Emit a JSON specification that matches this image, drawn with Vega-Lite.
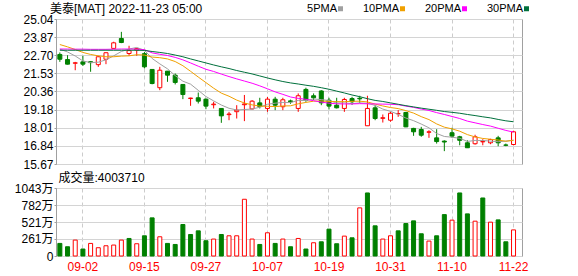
{
  "$schema": "https://vega.github.io/schema/vega-lite/v6.json",
  "background": "white",
  "padding": {"left": 13, "top": 2, "right": 5, "bottom": 0},
  "spacing": -3,
  "config": {
    "view": {"stroke": "#a0a0a0"},
    "axis": {"labelFont": "Liberation Sans, Noto Sans CJK SC", "labelFontSize": 12, "labelColor": "#000000", "domainColor": "#a0a0a0", "tickColor": "#a0a0a0", "gridColor": "#d4d4d4", "tickSize": 2, "labelPadding": 1},
    "title": {"font": "Liberation Sans, Noto Sans CJK SC", "fontSize": 12, "fontWeight": "normal", "color": "#000000"}
  },
  "datasets": {
    "k": [
      {"d":"08-30","o":22.75,"h":22.88,"l":22.27,"c":22.44,"v":193,"g":-0.10,"m5":23.09,"m10":23.39,"m20":23.10,"m30":23.02},
      {"d":"08-31","o":22.42,"h":22.70,"l":22.10,"c":22.12,"v":142,"g":-0.32,"m5":22.91,"m10":23.24,"m20":23.10,"m30":23.02},
      {"d":"09-01","o":22.18,"h":22.27,"l":21.73,"c":22.21,"v":244,"g":0.09,"m5":22.65,"m10":23.07,"m20":23.09,"m30":23.02},
      {"d":"09-02","o":22.27,"h":22.66,"l":22.00,"c":22.12,"v":107,"g":-0.09,"m5":22.33,"m10":22.88,"m20":23.09,"m30":23.02},
      {"d":"09-06","o":22.28,"h":22.30,"l":21.63,"c":22.22,"v":193,"g":0.10,"m5":22.22,"m10":22.75,"m20":23.08,"m30":23.02},
      {"d":"09-07","o":22.09,"h":22.66,"l":21.95,"c":22.60,"v":127,"g":0.38,"m5":22.25,"m10":22.66,"m20":23.08,"m30":23.02},
      {"d":"09-08","o":22.44,"h":22.88,"l":22.12,"c":22.86,"v":157,"g":0.26,"m5":22.40,"m10":22.60,"m20":23.08,"m30":23.02},
      {"d":"09-09","o":23.14,"h":23.57,"l":23.14,"c":23.50,"v":168,"g":0.64,"m5":22.66,"m10":22.60,"m20":23.09,"m30":23.02},
      {"d":"09-12","o":23.78,"h":24.21,"l":23.48,"c":23.52,"v":244,"g":0.02,"m5":22.94,"m10":22.64,"m20":23.10,"m30":23.02},
      {"d":"09-13","o":22.81,"h":23.31,"l":22.66,"c":23.00,"v":269,"g":-0.52,"m5":23.10,"m10":22.66,"m20":23.10,"m30":23.02},
      {"d":"09-14","o":23.03,"h":23.14,"l":22.66,"c":23.13,"v":188,"g":0.13,"m5":23.20,"m10":22.73,"m20":23.09,"m30":23.02},
      {"d":"09-15","o":22.80,"h":22.91,"l":21.85,"c":21.95,"v":310,"g":-1.18,"m5":23.02,"m10":22.71,"m20":23.06,"m30":23.01},
      {"d":"09-16","o":21.78,"h":21.80,"l":20.82,"c":20.87,"v":585,"g":-1.08,"m5":22.49,"m10":22.58,"m20":22.85,"m30":22.94},
      {"d":"09-19","o":20.60,"h":21.95,"l":20.44,"c":21.73,"v":295,"g":0.86,"m5":22.14,"m10":22.54,"m20":22.76,"m30":22.88},
      {"d":"09-20","o":21.67,"h":21.67,"l":20.98,"c":21.41,"v":193,"g":-0.32,"m5":21.82,"m10":22.46,"m20":22.68,"m30":22.81},
      {"d":"09-21","o":21.41,"h":21.52,"l":20.81,"c":20.94,"v":177,"g":-0.47,"m5":21.38,"m10":22.29,"m20":22.56,"m30":22.71},
      {"d":"09-22","o":20.81,"h":20.81,"l":19.86,"c":20.16,"v":483,"g":-0.78,"m5":21.02,"m10":22.02,"m20":22.40,"m30":22.60},
      {"d":"09-23","o":19.90,"h":19.95,"l":19.43,"c":19.93,"v":330,"g":-0.23,"m5":20.83,"m10":21.66,"m20":22.20,"m30":22.46},
      {"d":"09-26","o":19.95,"h":20.29,"l":19.58,"c":19.73,"v":386,"g":-0.20,"m5":20.43,"m10":21.29,"m20":21.99,"m30":22.33},
      {"d":"09-27","o":19.86,"h":19.90,"l":19.21,"c":19.41,"v":234,"g":-0.32,"m5":20.03,"m10":20.93,"m20":21.79,"m30":22.20},
      {"d":"09-28","o":19.50,"h":19.69,"l":19.26,"c":19.54,"v":260,"g":0.13,"m5":19.75,"m10":20.57,"m20":21.65,"m30":22.07},
      {"d":"09-29","o":19.26,"h":19.26,"l":18.33,"c":18.78,"v":330,"g":-0.76,"m5":19.48,"m10":20.25,"m20":21.48,"m30":21.95},
      {"d":"09-30","o":18.86,"h":19.04,"l":18.50,"c":18.90,"v":310,"g":0.12,"m5":19.27,"m10":20.05,"m20":21.32,"m30":21.84},
      {"d":"10-03","o":19.05,"h":19.47,"l":18.61,"c":19.15,"v":310,"g":0.25,"m5":19.16,"m10":19.80,"m20":21.17,"m30":21.71},
      {"d":"10-04","o":19.50,"h":20.13,"l":18.44,"c":19.55,"v":870,"g":0.40,"m5":19.19,"m10":19.61,"m20":21.03,"m30":21.60},
      {"d":"10-05","o":19.23,"h":19.80,"l":19.20,"c":19.73,"v":260,"g":0.18,"m5":19.22,"m10":19.49,"m20":20.89,"m30":21.49},
      {"d":"10-06","o":19.62,"h":19.95,"l":19.26,"c":19.38,"v":177,"g":-0.35,"m5":19.34,"m10":19.41,"m20":20.72,"m30":21.36},
      {"d":"10-07","o":19.26,"h":20.00,"l":19.04,"c":19.86,"v":356,"g":0.48,"m5":19.53,"m10":19.40,"m20":20.53,"m30":21.23},
      {"d":"10-10","o":19.86,"h":20.01,"l":19.15,"c":19.47,"v":193,"g":-0.39,"m5":19.60,"m10":19.38,"m20":20.33,"m30":21.11},
      {"d":"10-11","o":19.37,"h":19.95,"l":19.15,"c":19.82,"v":260,"g":0.35,"m5":19.65,"m10":19.42,"m20":20.17,"m30":21.00},
      {"d":"10-12","o":19.75,"h":19.83,"l":19.56,"c":19.69,"v":142,"g":-0.13,"m5":19.64,"m10":19.43,"m20":20.00,"m30":20.91},
      {"d":"10-13","o":19.26,"h":20.23,"l":19.04,"c":20.08,"v":269,"g":0.39,"m5":19.78,"m10":19.56,"m20":19.91,"m30":20.84},
      {"d":"10-14","o":20.49,"h":20.60,"l":19.69,"c":19.79,"v":107,"g":-0.29,"m5":19.77,"m10":19.65,"m20":19.85,"m30":20.76},
      {"d":"10-17","o":20.08,"h":20.23,"l":19.80,"c":19.95,"v":203,"g":0.16,"m5":19.87,"m10":19.73,"m20":19.76,"m30":20.69},
      {"d":"10-18","o":20.39,"h":20.44,"l":19.47,"c":19.62,"v":218,"g":-0.33,"m5":19.83,"m10":19.74,"m20":19.67,"m30":20.60},
      {"d":"10-19","o":19.79,"h":19.95,"l":19.19,"c":19.41,"v":412,"g":-0.21,"m5":19.77,"m10":19.71,"m20":19.60,"m30":20.50},
      {"d":"10-20","o":19.47,"h":19.95,"l":19.26,"c":19.30,"v":188,"g":-0.11,"m5":19.61,"m10":19.70,"m20":19.56,"m30":20.38},
      {"d":"10-21","o":19.26,"h":19.95,"l":19.04,"c":19.84,"v":305,"g":0.54,"m5":19.62,"m10":19.70,"m20":19.55,"m30":20.26},
      {"d":"10-24","o":19.90,"h":20.01,"l":19.49,"c":19.69,"v":279,"g":-0.15,"m5":19.57,"m10":19.72,"m20":19.55,"m30":20.13},
      {"d":"10-25","o":19.92,"h":20.08,"l":19.62,"c":19.88,"v":738,"g":0.19,"m5":19.62,"m10":19.73,"m20":19.57,"m30":20.02},
      {"d":"10-26","o":18.14,"h":20.08,"l":18.14,"c":19.26,"v":967,"g":-0.62,"m5":19.59,"m10":19.68,"m20":19.56,"m30":19.89},
      {"d":"10-27","o":19.30,"h":19.47,"l":18.50,"c":18.61,"v":463,"g":-0.65,"m5":19.46,"m10":19.54,"m20":19.55,"m30":19.78},
      {"d":"10-28","o":18.62,"h":18.87,"l":18.35,"c":18.66,"v":260,"g":0.05,"m5":19.22,"m10":19.42,"m20":19.54,"m30":19.71},
      {"d":"10-31","o":18.50,"h":19.04,"l":18.40,"c":18.95,"v":310,"g":0.29,"m5":19.07,"m10":19.32,"m20":19.53,"m30":19.62},
      {"d":"11-01","o":18.92,"h":19.15,"l":18.72,"c":18.93,"v":386,"g":-0.02,"m5":18.88,"m10":19.25,"m20":19.50,"m30":19.53},
      {"d":"11-02","o":19.00,"h":19.04,"l":18.05,"c":18.07,"v":498,"g":-0.86,"m5":18.64,"m10":19.12,"m20":19.41,"m30":19.44},
      {"d":"11-03","o":17.97,"h":18.01,"l":17.49,"c":17.75,"v":539,"g":-0.32,"m5":18.47,"m10":18.96,"m20":19.33,"m30":19.36},
      {"d":"11-04","o":17.90,"h":18.07,"l":17.43,"c":17.53,"v":341,"g":-0.22,"m5":18.25,"m10":18.73,"m20":19.22,"m30":19.28},
      {"d":"11-07","o":17.72,"h":17.85,"l":17.36,"c":17.75,"v":229,"g":0.22,"m5":18.01,"m10":18.54,"m20":19.13,"m30":19.21},
      {"d":"11-08","o":17.36,"h":17.92,"l":16.99,"c":17.12,"v":310,"g":-0.63,"m5":17.64,"m10":18.26,"m20":18.99,"m30":19.14},
      {"d":"11-09","o":17.15,"h":17.20,"l":16.50,"c":17.09,"v":635,"g":-0.03,"m5":17.45,"m10":18.05,"m20":18.87,"m30":19.06},
      {"d":"11-10","o":17.69,"h":18.01,"l":17.36,"c":17.47,"v":550,"g":0.38,"m5":17.40,"m10":17.94,"m20":18.74,"m30":19.01},
      {"d":"11-11","o":17.43,"h":17.49,"l":16.88,"c":17.20,"v":967,"g":-0.27,"m5":17.33,"m10":17.79,"m20":18.61,"m30":18.95},
      {"d":"11-14","o":17.04,"h":17.20,"l":16.72,"c":16.72,"v":646,"g":-0.48,"m5":17.13,"m10":17.57,"m20":18.44,"m30":18.87},
      {"d":"11-15","o":16.98,"h":17.56,"l":16.92,"c":17.43,"v":534,"g":0.71,"m5":17.19,"m10":17.42,"m20":18.33,"m30":18.80},
      {"d":"11-16","o":17.10,"h":17.27,"l":16.88,"c":17.13,"v":890,"g":-0.30,"m5":17.19,"m10":17.32,"m20":18.22,"m30":18.72},
      {"d":"11-17","o":17.04,"h":17.30,"l":16.95,"c":17.25,"v":519,"g":0.12,"m5":17.15,"m10":17.27,"m20":18.12,"m30":18.65},
      {"d":"11-18","o":17.36,"h":17.49,"l":16.82,"c":17.04,"v":554,"g":-0.21,"m5":17.11,"m10":17.22,"m20":17.98,"m30":18.55},
      {"d":"11-21","o":16.90,"h":16.99,"l":16.82,"c":16.88,"v":218,"g":-0.16,"m5":17.15,"m10":17.14,"m20":17.84,"m30":18.46},
      {"d":"11-22","o":16.93,"h":17.82,"l":16.88,"c":17.75,"v":400.37,"g":0.87,"m5":17.21,"m10":17.20,"m20":17.73,"m30":18.40}
    ]
  },
  "vconcat": [
    {
      "width": 466,
      "height": 145,
      "title": {"text": "美泰[MAT] 2022-11-23 05:00", "anchor": "start", "frame": "group", "dx": -6, "offset": -3},
      "data": {"name": "k"},
      "encoding": {
        "x": {
          "field": "d", "type": "ordinal", "sort": null,
          "scale": {"paddingInner": 0, "paddingOuter": 0.3, "align": 0},
          "axis": {"values": ["09-02","09-15","09-27","10-07","10-19","10-31","11-10","11-22"], "labels": false, "ticks": false, "domain": false, "grid": true, "gridDash": [4,3], "gridColor": "#cccccc",
                   "title": "成交量:4003710", "titleAnchor": "start", "titleAlign": "left", "titleBaseline": "middle", "titleX": 2, "titleY": 13,
                   "titleFont": "Liberation Sans, Noto Sans CJK SC", "titleFontSize": 12, "titleFontWeight": "normal", "titleColor": "#000000"}
        }
      },
      "layer": [
        {
          "mark": {"type": "rule", "strokeWidth": 1},
          "encoding": {
            "y": {"field": "l", "type": "quantitative", "scale": {"domain": [15.67, 25.04], "zero": false, "nice": false},
                  "axis": {"values": [15.67, 16.84, 18.01, 19.18, 20.36, 21.53, 22.70, 23.87, 25.04], "tickCount": 20, "format": ".2f", "title": null, "labelOverlap": false}},
            "y2": {"field": "h"},
            "color": {"condition": {"test": "datum.c >= datum.o", "value": "#ff0000"}, "value": "#008000"}
          }
        },
        {
          "mark": {"type": "bar", "width": 4, "strokeWidth": 1},
          "encoding": {
            "y": {"field": "o", "type": "quantitative"},
            "y2": {"field": "c"},
            "fill": {"condition": {"test": "datum.c >= datum.o", "value": "#ffffff"}, "value": "#008000"},
            "stroke": {"condition": {"test": "datum.c >= datum.o", "value": "#ff0000"}, "value": "#008000"}
          }
        },
        {
          "transform": [{"fold": ["m5", "m10", "m20", "m30"], "as": ["k", "val"]}],
          "mark": {"type": "line", "strokeWidth": 1},
          "encoding": {
            "y": {"field": "val", "type": "quantitative"},
            "color": {
              "field": "k", "type": "nominal",
              "scale": {"domain": ["m5", "m10", "m20", "m30"], "range": ["#a0a0a0", "#f0a000", "#ff00ff", "#00703c"]},
              "legend": {
                "orient": "none", "legendX": 279, "legendY": -16, "direction": "horizontal", "title": null,
                "labelExpr": "{'m5':'5PMA','m10':'10PMA','m20':'20PMA','m30':'30PMA'}[datum.label]",
                "symbolType": "square", "symbolSize": 4, "symbolStrokeWidth": 3,
                "labelFont": "Liberation Sans", "labelFontSize": 11, "labelColor": "#000000",
                "labelAlign": "right", "labelOffset": -9, "columnPadding": 14
              }
            }
          }
        }
      ]
    },
    {
      "width": 466,
      "height": 68,
      "data": {"name": "k"},
      "mark": {"type": "bar", "width": 4, "strokeWidth": 1},
      "encoding": {
        "x": {
          "field": "d", "type": "ordinal", "sort": null,
          "scale": {"paddingInner": 0, "paddingOuter": 0.3, "align": 0},
          "axis": {"values": ["09-02","09-15","09-27","10-07","10-19","10-31","11-10","11-22"], "labelColor": "#ff0000", "labelAngle": 0, "labelPadding": 5, "ticks": false, "domain": false, "grid": true, "gridDash": [4,3], "gridColor": "#cccccc", "title": null}
        },
        "y": {"field": "v", "type": "quantitative", "scale": {"domain": [0, 1043], "nice": false},
              "axis": {"values": [0, 261, 521, 782, 1043], "tickCount": 10, "labelExpr": "datum.value == 0 ? '0' : datum.value + '万'", "title": null, "labelOverlap": false}},
        "fill": {"condition": {"test": "datum.g >= 0", "value": "#ffffff"}, "value": "#008000"},
        "stroke": {"condition": {"test": "datum.g >= 0", "value": "#ff0000"}, "value": "#008000"}
      }
    }
  ]
}
